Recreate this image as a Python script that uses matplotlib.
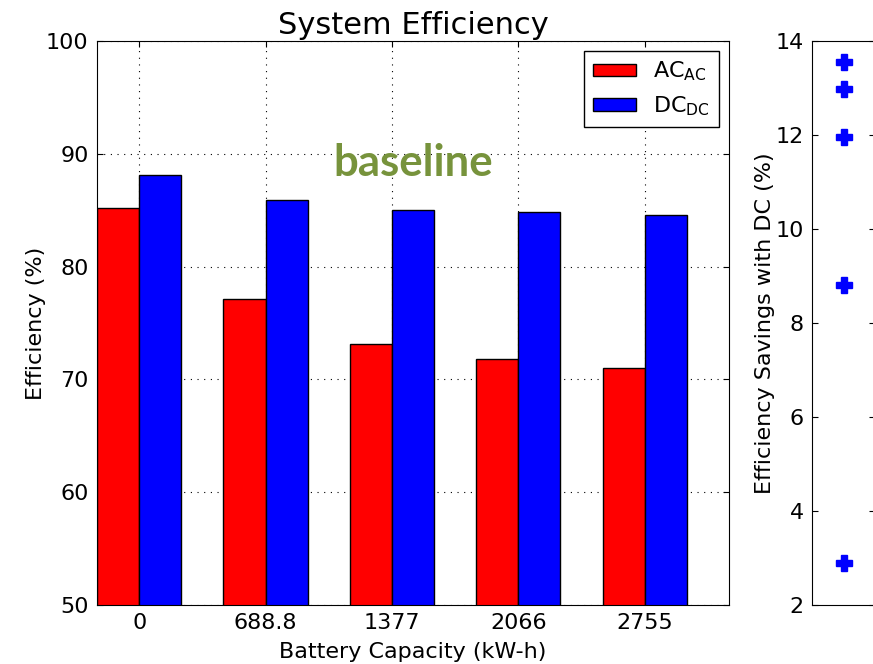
import matplotlib
matplotlib.use("Agg")
import matplotlib.pyplot as plt
import numpy as np

# values
capacity_labels = ["0", "688.8", "1377", "2066", "2755"]
eff_ac = [85.2, 77.1, 73.1, 71.8, 71.0]
eff_dc = [88.1, 85.9, 85.0, 84.8, 84.6]
savings = [2.9, 8.8, 11.95, 12.97, 13.55]

plt.rcParams['mathtext.default'] = 'regular'
plt.rcParams['xtick.direction'] = 'in'
plt.rcParams['ytick.direction'] = 'in'
plt.rcParams['xtick.top'] = True
plt.rcParams['ytick.right'] = True
plt.rcParams['xtick.major.size'] = 4
plt.rcParams['ytick.major.size'] = 4

fig = plt.figure(figsize=(8.73, 6.64), dpi=100)
ax = fig.add_axes([0.1111, 0.0889, 0.7240, 0.8494])

w = 1.0 / 3
ind = np.arange(len(capacity_labels))
ax.bar(ind, eff_ac, w, align='edge', color='red', edgecolor='black', linewidth=1,
       label=r'$AC_{AC}$', zorder=2)
ax.bar(ind + w, eff_dc, w, align='edge', color='blue', edgecolor='black', linewidth=1,
       label=r'$DC_{DC}$', zorder=2)

ax.set_xlim(0, 5)
ax.set_ylim(50, 100)
ax.set_xticks(ind + w)
ax.set_xticklabels(capacity_labels)
ax.set_yticks(np.arange(50, 101, 10))
ax.tick_params(labelsize=16, pad=6)
ax.grid(True, linestyle=(0, (1, 5)), color='black', linewidth=0.8, zorder=0)
ax.set_axisbelow(True)
ax.set_xlabel('Battery Capacity (kW-h)', fontsize=16, labelpad=6)
ax.set_ylabel('Efficiency (%)', fontsize=16, labelpad=0)
ax.set_title('System Efficiency', fontsize=22, pad=5)
leg = ax.legend(loc='upper right', fontsize=16, fancybox=False, edgecolor='black',
                framealpha=1, borderaxespad=0.45, handlelength=1.9, handleheight=0.5)
leg.get_frame().set_linewidth(1)
ax.text(0.5, 0.784, 'baseline', transform=ax.transAxes, ha='center', va='center',
        fontsize=31.5, fontweight='bold', family='Lato', color='#77933c')

ax2 = fig.add_axes([0.9301, 0.0889, 0.0725, 0.8494])
ax2.plot([1] * len(savings), savings, 'P', color='blue', markeredgecolor='blue',
         markersize=11, clip_on=False)
ax2.set_xlim(0, 2)
ax2.set_ylim(2, 14)
ax2.set_xticks([])
ax2.set_yticks(np.arange(2, 15, 2))
ax2.tick_params(labelsize=16, pad=6)
ax2.set_ylabel('Efficiency Savings with DC (%)', fontsize=16, labelpad=0)

fig.savefig('out.png', dpi=100, facecolor='white')
